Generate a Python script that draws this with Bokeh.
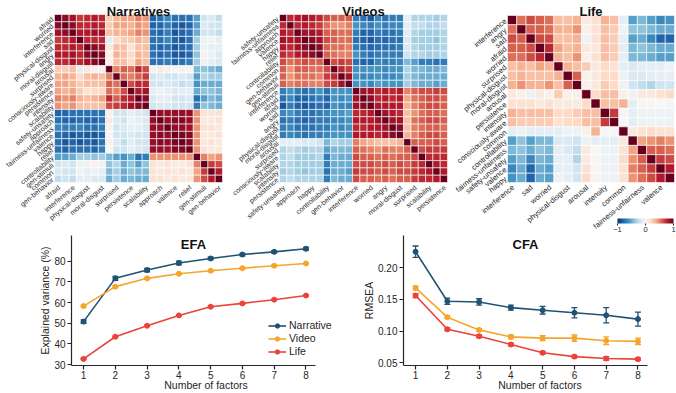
import numpy as np
from bokeh.plotting import figure
from bokeh.layouts import column, row
from bokeh.models import (ColumnDataSource, Range1d, LinearColorMapper, ColorBar,
                          FixedTicker, Whisker, TeeHead, Legend, LegendItem,
                          NumeralTickFormatter)
from bokeh.transform import transform
from bokeh.core.properties import value
from bokeh.embed import file_html
from bokeh.resources import INLINE

FONT = "Liberation Sans"
INK = "#262626"

# ---------------------------------------------------------------------------
# Correlation matrices: item order and lower triangle (row i holds r[i, :i])
# ---------------------------------------------------------------------------
narr_labels = ["afraid", "worried", "interference", "sad", "physical-disgust", "angry",
               "moral-disgust", "arousal", "surprised", "consciously-aware", "persistence",
               "intensity", "scalability", "safety-unsafety", "approach",
               "fairness-unfairness", "valence", "happy", "relief", "controllability",
               "gen-stimuli", "common", "gen-behavior"]
narr_lower = [
    [0.90],
    [0.85, 0.90],
    [0.70, 0.75, 0.80],
    [0.75, 0.75, 0.80, 0.75],
    [0.80, 0.80, 0.85, 0.75, 0.90],
    [0.75, 0.75, 0.85, 0.75, 0.85, 0.92],
    [0.25, 0.25, 0.30, -0.10, 0.10, 0.05, 0.05],
    [0.35, 0.40, 0.35, 0.20, 0.30, 0.35, 0.30, 0.50],
    [0.40, 0.40, 0.35, 0.25, 0.30, 0.30, 0.30, 0.60, 0.55],
    [0.40, 0.35, 0.40, 0.25, 0.15, 0.20, 0.20, 0.55, 0.50, 0.65],
    [0.50, 0.45, 0.50, 0.35, 0.30, 0.35, 0.40, 0.75, 0.60, 0.75, 0.80],
    [0.45, 0.40, 0.45, 0.30, 0.30, 0.30, 0.30, 0.65, 0.70, 0.75, 0.85, 0.90],
    [-0.80, -0.80, -0.75, -0.75, -0.75, -0.75, -0.75, 0.05, -0.20, -0.20, -0.10, -0.15, -0.20],
    [-0.75, -0.80, -0.80, -0.75, -0.80, -0.80, -0.75, 0.10, -0.15, -0.20, -0.05, -0.10, -0.15, 0.88],
    [-0.65, -0.70, -0.70, -0.65, -0.75, -0.75, -0.70, 0.05, -0.20, -0.15, -0.10, -0.10, -0.15, 0.88, 0.88],
    [-0.75, -0.80, -0.85, -0.80, -0.85, -0.85, -0.80, 0.00, -0.20, -0.20, -0.15, -0.20, -0.20, 0.88, 0.92, 0.88],
    [-0.75, -0.85, -0.80, -0.85, -0.80, -0.85, -0.75, 0.05, -0.15, -0.25, -0.10, -0.20, -0.20, 0.88, 0.92, 0.88, 0.95],
    [-0.75, -0.80, -0.75, -0.75, -0.75, -0.80, -0.70, 0.00, -0.20, -0.20, -0.10, -0.15, -0.20, 0.88, 0.88, 0.85, 0.92, 0.92],
    [-0.55, -0.55, -0.50, -0.35, -0.35, -0.40, -0.35, -0.45, -0.55, -0.60, -0.50, -0.75, -0.70, 0.45, 0.45, 0.45, 0.45, 0.45, 0.45],
    [-0.20, -0.15, -0.20, -0.05, -0.05, 0.05, -0.05, -0.40, -0.30, -0.50, -0.40, -0.55, -0.40, 0.15, 0.10, 0.15, 0.10, 0.10, 0.15, 0.50],
    [-0.15, -0.20, -0.20, -0.05, -0.10, -0.05, -0.10, -0.45, -0.35, -0.50, -0.40, -0.45, -0.45, 0.15, 0.10, 0.15, 0.10, 0.15, 0.10, 0.40, 0.70],
    [-0.25, -0.20, -0.25, -0.10, -0.10, -0.15, -0.15, -0.50, -0.35, -0.50, -0.45, -0.50, -0.50, 0.15, 0.15, 0.10, 0.15, 0.10, 0.10, 0.45, 0.65, 0.80],
]

vid_labels = ["safety-unsafety", "fairness-unfairness", "approach", "valence", "happy", "relief",
              "controllability", "common", "gen-behavior", "gen-stimuli", "interference",
              "afraid", "worried", "sad", "angry", "physical-disgust", "moral-disgust",
              "arousal", "surprised", "consciously-aware", "scalability", "intensity",
              "persistence"]
vid_lower = [
    [0.75],
    [0.80, 0.75],
    [0.85, 0.80, 0.85],
    [0.80, 0.75, 0.85, 0.90],
    [0.75, 0.70, 0.80, 0.85, 0.90],
    [0.65, 0.55, 0.60, 0.65, 0.60, 0.60],
    [0.60, 0.45, 0.60, 0.60, 0.55, 0.55, 0.65],
    [0.60, 0.45, 0.55, 0.55, 0.55, 0.50, 0.70, 0.75],
    [0.60, 0.50, 0.55, 0.55, 0.50, 0.50, 0.65, 0.70, 0.85],
    [-0.70, -0.60, -0.70, -0.75, -0.70, -0.60, -0.75, -0.60, -0.60, -0.60],
    [-0.75, -0.65, -0.80, -0.80, -0.75, -0.70, -0.80, -0.60, -0.65, -0.60, 0.85],
    [-0.85, -0.70, -0.80, -0.85, -0.80, -0.75, -0.80, -0.60, -0.65, -0.65, 0.85, 0.90],
    [-0.65, -0.60, -0.70, -0.75, -0.75, -0.70, -0.65, -0.60, -0.60, -0.55, 0.75, 0.75, 0.80],
    [-0.75, -0.70, -0.75, -0.80, -0.75, -0.70, -0.70, -0.65, -0.65, -0.60, 0.80, 0.80, 0.80, 0.85],
    [-0.70, -0.65, -0.75, -0.75, -0.75, -0.70, -0.70, -0.60, -0.65, -0.60, 0.75, 0.75, 0.80, 0.80, 0.85],
    [-0.70, -0.65, -0.70, -0.75, -0.70, -0.70, -0.65, -0.60, -0.60, -0.60, 0.80, 0.80, 0.80, 0.75, 0.85, 0.90],
    [-0.10, -0.10, -0.10, -0.15, -0.15, -0.20, -0.45, -0.30, -0.35, -0.35, 0.50, 0.40, 0.35, 0.30, 0.30, 0.30, 0.35],
    [-0.30, -0.25, -0.30, -0.35, -0.30, -0.30, -0.55, -0.45, -0.45, -0.45, 0.60, 0.55, 0.50, 0.45, 0.55, 0.50, 0.50, 0.60],
    [-0.30, -0.25, -0.35, -0.35, -0.35, -0.30, -0.70, -0.45, -0.50, -0.50, 0.65, 0.60, 0.60, 0.55, 0.60, 0.55, 0.60, 0.60, 0.65],
    [-0.30, -0.30, -0.35, -0.35, -0.35, -0.35, -0.70, -0.50, -0.50, -0.50, 0.65, 0.65, 0.65, 0.60, 0.65, 0.60, 0.65, 0.60, 0.70, 0.75],
    [-0.35, -0.30, -0.35, -0.40, -0.35, -0.35, -0.75, -0.50, -0.50, -0.55, 0.70, 0.65, 0.65, 0.60, 0.65, 0.60, 0.65, 0.65, 0.70, 0.75, 0.80],
    [-0.30, -0.25, -0.30, -0.30, -0.30, -0.30, -0.70, -0.45, -0.50, -0.50, 0.65, 0.60, 0.60, 0.55, 0.60, 0.55, 0.60, 0.60, 0.70, 0.75, 0.75, 0.80],
]

life_labels = ["interference", "angry", "sad", "afraid", "worried", "surprised",
               "physical-disgust", "moral-disgust", "arousal", "persistence", "intensity",
               "consciously-aware", "common", "controllability", "fairness-unfairness",
               "safety-unsafety", "valence", "happy"]
life_lower = [
    [0.55],
    [0.65, 0.60],
    [0.60, 0.60, 0.65],
    [0.55, 0.55, 0.65, 0.75],
    [0.30, 0.35, 0.30, 0.40, 0.35],
    [0.30, 0.35, 0.30, 0.30, 0.30, 0.35],
    [0.35, 0.45, 0.35, 0.35, 0.45, 0.30, 0.60],
    [0.10, 0.05, -0.05, 0.10, 0.05, 0.25, 0.05, 0.05],
    [0.15, 0.15, 0.15, 0.10, 0.15, 0.10, 0.10, 0.10, 0.20],
    [0.35, 0.30, 0.30, 0.30, 0.30, 0.20, 0.20, 0.25, 0.30, 0.30],
    [0.30, 0.25, 0.25, 0.25, 0.25, 0.15, 0.20, 0.20, 0.30, 0.30, 0.70],
    [-0.10, -0.05, -0.10, -0.10, -0.10, -0.10, -0.05, -0.05, 0.05, 0.35, 0.00, 0.00],
    [-0.55, -0.40, -0.55, -0.45, -0.45, -0.15, -0.15, -0.20, -0.05, -0.10, -0.10, -0.10, 0.10],
    [-0.45, -0.40, -0.50, -0.40, -0.45, -0.10, -0.15, -0.25, 0.10, 0.00, -0.05, -0.05, 0.15, 0.40],
    [-0.55, -0.45, -0.65, -0.45, -0.50, -0.10, -0.10, -0.30, 0.10, 0.02, -0.05, -0.05, 0.20, 0.45, 0.60],
    [-0.65, -0.50, -0.80, -0.50, -0.55, -0.10, -0.10, -0.20, 0.15, 0.00, -0.05, -0.05, 0.15, 0.50, 0.60, 0.70],
    [-0.60, -0.50, -0.80, -0.50, -0.55, -0.05, -0.10, -0.20, 0.20, 0.02, -0.05, -0.05, 0.15, 0.45, 0.55, 0.65, 0.80],
]

# ---------------------------------------------------------------------------
# Factor analysis results (mean and error per number of factors)
# ---------------------------------------------------------------------------
factors = [1, 2, 3, 4, 5, 6, 7, 8]

efa_narrative = [50.8, 71.7, 75.7, 79.1, 81.3, 83.2, 84.5, 86.0]
efa_narrative_err = [0.8, 1.0, 0.8, 0.9, 0.6, 0.6, 0.6, 0.7]
efa_video = [58.3, 67.7, 71.7, 73.9, 75.4, 76.6, 77.8, 78.9]
efa_video_err = [0.5, 0.5, 0.5, 0.4, 0.4, 0.4, 0.4, 0.4]
efa_life = [32.8, 43.5, 48.8, 53.8, 58.0, 59.6, 61.4, 63.4]
efa_life_err = [0.3, 0.3, 0.3, 0.3, 0.3, 0.3, 0.3, 0.3]

cfa_narrative = [0.225, 0.147, 0.146, 0.137, 0.133, 0.129, 0.125, 0.119]
cfa_narrative_err = [0.009, 0.005, 0.005, 0.004, 0.006, 0.008, 0.012, 0.011]
cfa_video = [0.168, 0.122, 0.102, 0.091, 0.089, 0.089, 0.085, 0.084]
cfa_video_err = [0.003, 0.002, 0.002, 0.003, 0.004, 0.005, 0.006, 0.005]
cfa_life = [0.156, 0.103, 0.092, 0.079, 0.066, 0.060, 0.057, 0.056]
cfa_life_err = [0.003, 0.002, 0.002, 0.002, 0.002, 0.002, 0.003, 0.002]

series_names = ["Narrative", "Video", "Life"]
series_colors = ["#1f5273", "#f6a52c", "#ec4238"]

# ---------------------------------------------------------------------------
# Diverging colour map (blue -> white -> red), 256 steps
# ---------------------------------------------------------------------------
_anchors = ["#053061", "#2166ac", "#4393c3", "#92c5de", "#d1e5f0", "#f7f7f7",
            "#fddbc7", "#f4a582", "#d6604d", "#b2182b", "#67001f"]
_rgb = np.array([[int(c[k:k + 2], 16) for k in (1, 3, 5)] for c in _anchors], float)
_pos = np.linspace(0, 1, len(_anchors))
palette = ["#%02x%02x%02x" % tuple(int(round(np.interp(t, _pos, _rgb[:, k]))) for k in range(3))
           for t in np.linspace(0, 1, 256)]
mapper = LinearColorMapper(palette=palette, low=-1, high=1)


def full_matrix(lower):
    n = len(lower) + 1
    m = np.eye(n)
    for i, vals in enumerate(lower, start=1):
        for j, v in enumerate(vals):
            m[i, j] = m[j, i] = v
    return m


def heatmap(title, labels, lower, panel_w, panel_h, left, top, size, label_px):
    n = len(labels)
    m = full_matrix(lower)
    s = size / n  # pixels per cell
    p = figure(width=panel_w, height=panel_h,
               x_range=Range1d(-left / s, (panel_w - left) / s),
               y_range=Range1d((panel_h - top) / s, -top / s),
               x_axis_location=None, y_axis_location=None, min_border=0,
               toolbar_location=None, output_backend="svg")
    p.grid.visible = False
    p.outline_line_color = None

    rr, cc = np.indices((n, n))
    src = ColumnDataSource(dict(x=cc.ravel() + 0.5, y=rr.ravel() + 0.5, r=m.ravel()))
    p.rect("x", "y", 1, 1, source=src, fill_color=transform("r", mapper),
           line_color="white", line_width=0.6)

    ang = np.deg2rad(40)
    ysrc = ColumnDataSource(dict(x=[0.0] * n, y=list(np.arange(n) + 0.5), t=labels))
    p.text("x", "y", text="t", source=ysrc, angle=ang, x_offset=-2,
           text_align="right", text_baseline="middle", text_color=INK,
           text_font=value(FONT), text_font_size=value(label_px))
    idx = list(range(0, n, 2))
    xsrc = ColumnDataSource(dict(x=[i + 0.5 for i in idx], y=[float(n)] * len(idx),
                                 t=[labels[i] for i in idx]))
    p.text("x", "y", text="t", source=xsrc, angle=ang, x_offset=1, y_offset=4,
           text_align="right", text_baseline="middle", text_color=INK,
           text_font=value(FONT), text_font_size=value(label_px))

    p.text(x=[n / 2], y=[(11 - top) / s], text=[title], text_align="center",
           text_baseline="alphabetic", text_color="#111111", text_font=value(FONT),
           text_font_style="bold", text_font_size=value("13px"))
    return p


TOP_H = 235
BOT_H = 158

p_narr = heatmap("Narratives", narr_labels, narr_lower, 226, TOP_H, 54, 14, 168, "7px")
p_vid = heatmap("Videos", vid_labels, vid_lower, 226, TOP_H, 53, 14, 168, "7px")
p_life = heatmap("Life", life_labels, life_lower, 224, TOP_H, 55, 15, 167, "7.5px")

cbar = ColorBar(color_mapper=mapper, orientation="horizontal", width=56, height=5,
                location=(165, 1), padding=0, margin=0,
                ticker=FixedTicker(ticks=[-1, 0, 1]),
                major_label_overrides={-1: "\u22121", 0: "0", 1: "1"},
                major_label_text_font=FONT, major_label_text_font_size="7.5px",
                major_label_text_color=INK, label_standoff=1,
                major_tick_out=2, major_tick_in=0, major_tick_line_color=INK,
                bar_line_color=None, background_fill_alpha=0, border_line_color=None)
p_life.add_layout(cbar)


def style_axes(p):
    for ax in (p.xaxis[0], p.yaxis[0]):
        ax.axis_line_color = INK
        ax.axis_line_width = 1.2
        ax.major_tick_line_color = INK
        ax.major_tick_line_width = 1.2
        ax.major_tick_out = 4
        ax.major_tick_in = 0
        ax.minor_tick_line_color = None
        ax.major_label_text_font = FONT
        ax.major_label_text_font_size = "10px"
        ax.major_label_text_color = INK
        ax.major_label_standoff = 2
        ax.axis_label_text_font = FONT
        ax.axis_label_text_font_size = "10.5px"
        ax.axis_label_text_font_style = "normal"
        ax.axis_label_text_color = INK


X0, X8 = 0.62, 8.3   # visible extent of the factor axis


def factor_panel(title, width, border_left, axis_px, y_range, yticks, ylabel,
                 data, legend_loc=None, yfmt=None):
    # frame spans to the right edge; the axis line itself stops at X8
    frame_w = width - border_left
    x_end = X0 + (X8 - X0) * frame_w / axis_px
    p = figure(width=width, height=BOT_H, x_range=Range1d(X0, x_end), y_range=y_range,
               min_border_left=border_left, min_border_right=0,
               min_border_top=0, min_border_bottom=0,
               toolbar_location=None, output_backend="svg")
    p.grid.visible = False
    p.outline_line_color = None
    style_axes(p)
    p.xaxis.bounds = (X0, X8)
    p.xaxis.ticker = FixedTicker(ticks=factors)
    p.yaxis.ticker = FixedTicker(ticks=yticks)
    if yfmt:
        p.yaxis.formatter = NumeralTickFormatter(format=yfmt)
    p.xaxis.axis_label = "Number of factors"
    p.yaxis.axis_label = ylabel
    p.xaxis.major_label_standoff = 1
    p.xaxis.axis_label_standoff = -3
    p.yaxis.axis_label_standoff = 0

    items = []
    for name, color, (vals, errs) in zip(series_names, series_colors, data):
        src = ColumnDataSource(dict(x=factors, y=vals,
                                    lo=[v - e for v, e in zip(vals, errs)],
                                    hi=[v + e for v, e in zip(vals, errs)]))
        ln = p.line("x", "y", source=src, line_color=color, line_width=1.6)
        sc = p.scatter("x", "y", source=src, size=5, fill_color=color, line_color=color)
        p.add_layout(Whisker(source=src, base="x", upper="hi", lower="lo",
                             dimension="height", line_color=color, line_width=1.3,
                             upper_head=TeeHead(size=6, line_color=color, line_width=1.3),
                             lower_head=TeeHead(size=6, line_color=color, line_width=1.3)))
        items.append(LegendItem(label=name, renderers=[ln, sc]))

    p.text(x=[(X0 + X8) / 2], y=[y_range.end], text=[title], y_offset=1, text_align="center",
           text_baseline="top", text_color="#111111", text_font=value(FONT),
           text_font_style="bold", text_font_size=value("13px"))

    if legend_loc is not None:
        legend = Legend(items=items, location=legend_loc, orientation="vertical",
                        background_fill_alpha=0, border_line_color=None,
                        padding=0, margin=0, spacing=1, label_standoff=3,
                        glyph_width=18, glyph_height=11, label_height=11,
                        label_text_font=FONT, label_text_font_size="10.5px",
                        label_text_color=INK)
        p.add_layout(legend)
    return p


p_efa = factor_panel("EFA", 340, 71, 244, Range1d(29.6, 92.4), [30, 40, 50, 60, 70, 80],
                     "Explained variance (%)",
                     [(efa_narrative, efa_narrative_err), (efa_video, efa_video_err),
                      (efa_life, efa_life_err)],
                     legend_loc=(197, 8))
p_cfa = factor_panel("CFA", 336, 63, 244, Range1d(0.046, 0.2505), [0.05, 0.10, 0.15, 0.20],
                     "RMSEA",
                     [(cfa_narrative, cfa_narrative_err), (cfa_video, cfa_video_err),
                      (cfa_life, cfa_life_err)],
                     yfmt="0.00")

layout = column(row(p_narr, p_vid, p_life, spacing=0),
                row(p_efa, p_cfa, spacing=0), spacing=0)

open("out.html", "w").write(file_html(layout, INLINE))
